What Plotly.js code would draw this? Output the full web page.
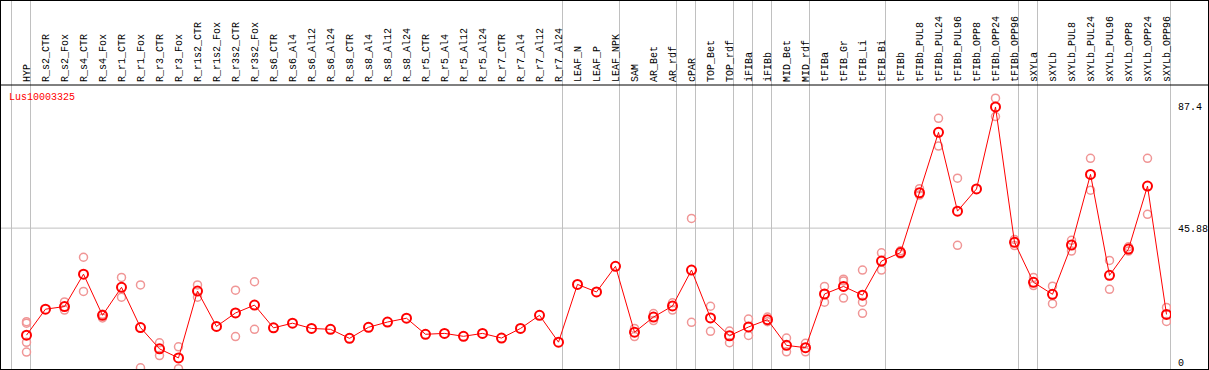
<!DOCTYPE html>
<html>
<head>
<meta charset="utf-8">
<script src="https://cdn.plot.ly/plotly-3.0.1.min.js"></script>
<style>
  html, body { margin: 0; padding: 0; background: #fff; }
  #chart { width: 1207px; height: 368px; border: 1px solid #000; }
</style>
</head>
<body>
<div id="chart"></div>
<script>
const chartTitle = "Lus10003325";

const categories = [
  "HYP", "R_s2_CTR", "R_s2_Fox", "R_s4_CTR", "R_s4_Fox", "R_r1_CTR", "R_r1_Fox",
  "R_r3_CTR", "R_r3_Fox", "R_r1s2_CTR", "R_r1s2_Fox", "R_r3s2_CTR", "R_r3s2_Fox",
  "R_s6_CTR", "R_s6_Al4", "R_s6_Al12", "R_s6_Al24", "R_s8_CTR", "R_s8_Al4",
  "R_s8_Al12", "R_s8_Al24", "R_r5_CTR", "R_r5_Al4", "R_r5_Al12", "R_r5_Al24",
  "R_r7_CTR", "R_r7_Al4", "R_r7_Al12", "R_r7_Al24", "LEAF_N", "LEAF_P", "LEAF_NPK",
  "SAM", "AR_Bet", "AR_rdf", "cPAR", "TOP_Bet", "TOP_rdf", "iFIBa", "iFIBb",
  "MID_Bet", "MID_rdf", "tFIBa", "tFIB_Gr", "tFIB_Li", "tFIB_Bi", "tFIBb",
  "tFIBb_PUL8", "tFIBb_PUL24", "tFIBb_PUL96", "tFIBb_OPP8", "tFIBb_OPP24", "tFIBb_OPP96",
  "sXYLa", "sXYLb", "sXYLb_PUL8", "sXYLb_PUL24", "sXYLb_PUL96", "sXYLb_OPP8",
  "sXYLb_OPP24", "sXYLb_OPP96"
];

const meanValues = [
  9.2, 18.1, 19.0, 30.1, 16.0, 25.6, 11.8,
  4.5, 1.4, 24.3, 12.2, 16.8, 19.5,
  11.7, 13.3, 11.5, 11.2, 8.1, 11.9,
  13.7, 15.0, 9.5, 9.8, 8.8, 9.8,
  8.2, 11.5, 16.0, 6.8, 26.6, 24.0, 32.8,
  10.2, 15.4, 19.2, 31.5, 15.1, 9.0, 12.0, 14.5,
  5.7, 4.9, 23.3, 25.9, 22.9, 34.6, 37.5,
  58.0, 78.7, 51.7, 59.3, 87.4, 41.0,
  27.3, 23.2, 40.1, 64.3, 29.7, 38.7,
  60.3, 16.3
];

const replicateValues = [
  [13.8, 13.3, 6.75, 3.4], [], [20.6, 17.8], [35.9, 24.2], [16.4, 15.1], [29.0, 22.2], [26.4, -2.0],
  [6.6, 2.2], [5.2, -2.3], [26.4, 22.2], [], [24.6, 8.7], [27.5, 11.2],
  [], [], [], [], [], [],
  [], [], [], [], [], [],
  [], [], [], [], [], [], [],
  [11.5, 8.7], [16.6, 14.2], [20.3, 17.8], [49.2, 13.6], [19.1, 10.5], [10.6, 6.6], [14.7, 9.1], [15.4, 13.8],
  [8.2, 3.5], [6.4, 3.5], [25.9, 20.5], [28.4, 27.8, 21.9], [31.5, 20.5, 16.7], [37.4, 31.5], [38.1, 37.0],
  [59.4, 57.2], [83.5, 74.0], [63.0, 40.0], [], [90.4, 84.1], [42.0, 39.9],
  [29.0, 26.2], [26.0, 20.0], [41.7, 38.0], [69.8, 58.9], [34.8, 24.9], [39.5, 38.0],
  [69.8, 50.6], [18.7, 13.9]
];

// group separators: drawn just after these categories
const separatorAfter = [null, "HYP", "R_r7_Al24", "LEAF_NPK", "AR_rdf", "cPAR", "TOP_rdf",
  "iFIBa", "iFIBb", "MID_rdf", "tFIB_Bi", "tFIBb_OPP96", "sXYLa", "sXYLb_OPP96"];

const yTickVals = [0, 45.88, 87.4];
const yTickText = ["0", "45.88", "87.4"];
const yGridVals = [45.88];

const xIdx = categories.map((c, i) => i);

const repX = [], repY = [];
replicateValues.forEach((arr, i) => arr.forEach(v => { repX.push(i); repY.push(v); }));

const font = "Liberation Mono, DejaVu Sans Mono, monospace";

const traces = [
  {
    x: repX, y: repY, type: "scatter", mode: "markers",
    marker: { symbol: "circle-open", size: 8, color: "rgb(240,150,150)", line: { width: 1.5, color: "rgb(240,150,150)" } },
    hoverinfo: "y", showlegend: false, cliponaxis: true
  },
  {
    x: xIdx, y: meanValues, type: "scatter", mode: "lines+markers",
    line: { color: "#ff0000", width: 1 },
    marker: { symbol: "circle-open", size: 9, color: "#ff0000", line: { width: 2, color: "#ff0000" } },
    hoverinfo: "y", showlegend: false, cliponaxis: true
  }
];

const plotTopPx = 84, plotH = 284, plotW = 1170, figW = 1207;
const headerTopPaper = (plotH + plotTopPx) / plotH;

const shapes = [];
separatorAfter.forEach(name => {
  const i = name === null ? -1 : categories.indexOf(name);
  shapes.push({
    type: "line", xref: "x", yref: "paper",
    x0: i + 0.21, x1: i + 0.21, y0: 0, y1: headerTopPaper + 0.01,
    line: { color: "#c0c0c0", width: 1 }, layer: "below"
  });
});
yGridVals.forEach(v => {
  shapes.push({
    type: "line", xref: "paper", yref: "y", x0: 0, x1: 1, y0: v, y1: v,
    line: { color: "#c0c0c0", width: 1 }, layer: "below"
  });
});
// header divider line spanning full width
shapes.push({
  type: "line", xref: "paper", yref: "paper",
  x0: -0.01, x1: figW / plotW + 0.01, y0: 1, y1: 1,
  line: { color: "#000", width: 1 }
});

const layout = {
  width: 1207, height: 368,
  margin: { l: 0, r: figW - plotW, t: plotTopPx, b: 0, pad: 0 },
  paper_bgcolor: "#fff", plot_bgcolor: "#fff",
  showlegend: false,
  xaxis: {
    side: "top", range: [-1.342, 60.237],
    tickvals: xIdx, ticktext: categories, tickangle: -90,
    tickfont: { family: font, size: 10, color: "#000" },
    ticks: "", ticklabelstandoff: 2, showgrid: false, zeroline: false, showline: false,
    fixedrange: true, automargin: false
  },
  yaxis: {
    side: "right", range: [-2.40, 94.93],
    tickvals: yTickVals, ticktext: yTickText,
    tickfont: { family: font, size: 10, color: "#000" },
    ticks: "", ticklabelstandoff: 6,
    showgrid: false, zeroline: false, showline: false,
    fixedrange: true, automargin: false
  },
  shapes: shapes,
  annotations: [{
    text: chartTitle, xref: "paper", yref: "paper",
    x: 6 / plotW, y: (plotH - 12) / plotH, xanchor: "left", yanchor: "middle",
    showarrow: false, font: { family: font, size: 10, color: "#ff0000" }
  }]
};

Plotly.newPlot("chart", traces, layout, { staticPlot: true, displayModeBar: false });
</script>
</body>
</html>
